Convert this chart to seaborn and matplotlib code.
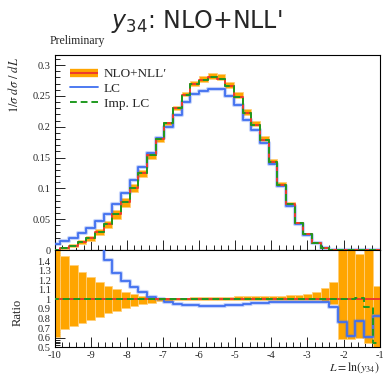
import numpy as np
import matplotlib
matplotlib.use("Agg")
import matplotlib.pyplot as plt
import seaborn as sns
from matplotlib.ticker import MultipleLocator
from matplotlib.lines import Line2D

# ---------------- data ----------------
bin_start = -10.0865
bin_width = 0.2405
n_bins = 38

nlo = [0.0005, 0.003, 0.007, 0.013, 0.019, 0.029, 0.0415, 0.058, 0.078, 0.101,
       0.125, 0.154, 0.180, 0.206, 0.230, 0.252, 0.269, 0.276, 0.280, 0.278,
       0.266, 0.249, 0.222, 0.203, 0.178, 0.143, 0.106, 0.074, 0.044, 0.026,
       0.012, 0.004, 0.0008, 0.0002, 0.0001, 0.0, 0.0, 0.0]
lc = [0.009, 0.014, 0.020, 0.027, 0.036, 0.047, 0.059, 0.075, 0.092, 0.114,
      0.134, 0.157, 0.181, 0.200, 0.219, 0.240, 0.253, 0.258, 0.262, 0.261,
      0.250, 0.235, 0.211, 0.194, 0.174, 0.140, 0.104, 0.072, 0.043, 0.025,
      0.0118, 0.0039, 0.0007, 0.0002, 0.0001, 0.0, 0.0, 0.0]
imp_lc = [0.0005, 0.003, 0.007, 0.013, 0.019, 0.029, 0.0415, 0.058, 0.078, 0.101,
          0.125, 0.154, 0.180, 0.206, 0.230, 0.252, 0.269, 0.276, 0.280, 0.278,
          0.266, 0.249, 0.222, 0.203, 0.178, 0.143, 0.106, 0.074, 0.044, 0.026,
          0.012, 0.004, 0.0008, 0.0002, 0.0001, 0.0, 0.0, 0.0]

band_up = [1.55, 1.45, 1.36, 1.29, 1.23, 1.185, 1.143, 1.108, 1.08, 1.056,
           1.035, 1.022, 1.014, 1.012, 1.015, 1.018, 1.02, 1.022, 1.024, 1.026,
           1.028, 1.03, 1.032, 1.034, 1.036, 1.038, 1.04, 1.045, 1.05, 1.06,
           1.08, 1.12, 1.18, 1.6, 1.6, 1.47, 1.6, 1.14]
band_dn = [0.61, 0.69, 0.72, 0.75, 0.78, 0.817, 0.853, 0.88, 0.905, 0.93,
           0.95, 0.964, 0.978, 0.985, 0.99, 0.99, 0.99, 0.99, 0.99, 0.99,
           0.99, 0.99, 0.99, 0.99, 0.99, 0.99, 0.99, 0.99, 0.99, 0.99,
           0.99, 0.98, 0.95, 0.59, 0.59, 0.60, 0.55, 0.48]
ratio_lc = [18.0, 4.7, 2.9, 2.1, 1.9, 1.62, 1.41, 1.28, 1.19, 1.13,
            1.074, 1.028, 1.0, 0.97, 0.953, 0.943, 0.938, 0.936, 0.935, 0.936,
            0.938, 0.943, 0.95, 0.957, 0.965, 0.972, 0.975, 0.976, 0.977, 0.977,
            0.976, 0.975, 0.92, 0.76, 0.62, 0.77, 0.61, 0.83]
ratio_imp = [1.0] * 35 + [1.015, 0.92, 0.55]

xticks = [-10, -9, -8, -7, -6, -5, -4, -3, -2, -1]
yticks_main = [0, 0.05, 0.1, 0.15, 0.2, 0.25, 0.3]
yticks_ratio = [0.5, 0.6, 0.7, 0.8, 0.9, 1.0, 1.1, 1.2, 1.3, 1.4]

# ---------------- style ----------------
sns.set_theme(style="ticks")
plt.rcParams["font.family"] = ["Liberation Serif", "DejaVu Serif"]
plt.rcParams["mathtext.fontset"] = "stix"
plt.rcParams["axes.linewidth"] = 0.8

ORANGE = "#ffa500"
ORANGE_EDGE = "#ffcf7a"
RED = "#ee3b2b"
BLUE = "#3f6ff0"
GREEN = "#1f9a1f"

edges = bin_start + bin_width * np.arange(n_bins + 1)
lefts = edges[:-1]

W, H = 383, 377
fig = plt.figure(figsize=(W / 100, H / 100), dpi=100)
ax = fig.add_axes([54.7 / W, 1 - 250 / H, 324.9 / W, 195 / H])
axr = fig.add_axes([54.7 / W, 1 - 347.3 / H, 324.9 / W, 97.3 / H])


def step(a, vals, **kw):
    v = np.append(np.asarray(vals, float), vals[-1])
    sns.lineplot(x=edges, y=v, ax=a, drawstyle="steps-post", estimator=None,
                 sort=False, **kw)


# ---- main panel ----
nlo_a = np.asarray(nlo)
lo = nlo_a * np.asarray(band_dn)
hi = nlo_a * np.asarray(band_up)
ax.bar(lefts, hi - lo, bottom=lo, width=bin_width, align="edge",
       color=ORANGE, edgecolor=ORANGE_EDGE, linewidth=0.6, zorder=2)
step(ax, lc, color=BLUE, lw=3.0, alpha=0.3, zorder=3)
step(ax, lc, color=BLUE, lw=1.3, zorder=4)
step(ax, nlo, color=RED, lw=1.4, zorder=5)
step(ax, imp_lc, color=GREEN, lw=1.4, linestyle=(0, (3.5, 2)), zorder=6)

ax.set_xlim(-10, -1)
ax.set_ylim(0, 0.3165)
ax.set_xticks(xticks)
ax.xaxis.set_minor_locator(MultipleLocator(0.2))
ax.set_yticks(yticks_main)
ax.set_yticklabels(["0", "0.05", "0.1", "0.15", "0.2", "0.25", "0.3"])
ax.yaxis.set_minor_locator(MultipleLocator(0.01))
ax.tick_params(axis="x", labelbottom=False)

handles = [
    (Line2D([], [], color=ORANGE, lw=6, solid_capstyle="butt"),
     Line2D([], [], color=RED, lw=1.5, solid_capstyle="butt")),
    Line2D([], [], color=BLUE, lw=1.3),
    Line2D([], [], color=GREEN, lw=1.4, linestyle=(0, (3.5, 2))),
]
ax.legend(handles, ["NLO+NLL\u2032", "LC", "Imp. LC"], loc="upper left",
          bbox_to_anchor=((70 - 54.7) / 324.9, (250 - 68) / 195),
          frameon=False, borderpad=0, borderaxespad=0, fontsize=9.5,
          handlelength=2.1, handletextpad=0.45, labelspacing=0.2)

# ---- ratio panel ----
axr.bar(lefts, np.asarray(band_up) - np.asarray(band_dn), bottom=band_dn,
        width=bin_width, align="edge", color=ORANGE, edgecolor=ORANGE_EDGE,
        linewidth=0.6, zorder=2)
step(axr, ratio_lc, color=BLUE, lw=3.0, alpha=0.3, zorder=3)
step(axr, ratio_lc, color=BLUE, lw=1.3, zorder=4)
step(axr, [1.0] * n_bins, color=RED, lw=1.4, zorder=5)
step(axr, ratio_imp, color=GREEN, lw=1.4, linestyle=(0, (3.5, 2)), zorder=6)

axr.set_xlim(-10, -1)
axr.set_ylim(0.5, 1.515)
axr.set_xticks(xticks)
axr.set_xticklabels([str(t) for t in xticks])
axr.xaxis.set_minor_locator(MultipleLocator(0.2))
axr.set_yticks(yticks_ratio)
axr.set_yticklabels(["0.5", "0.6", "0.7", "0.8", "0.9", "1", "1.1", "1.2", "1.3", "1.4"])
axr.yaxis.set_minor_locator(MultipleLocator(0.02))

for a in (ax, axr):
    a.set_xlabel("")
    a.set_ylabel("")
    a.tick_params(which="both", direction="in", labelsize=7.5, color="#222222",
                  width=0.7, pad=3)
    a.tick_params(which="major", length=7)
    a.tick_params(which="minor", length=3.5)
    for s in a.spines.values():
        s.set_color("black")

# ---- texts ----
fig.text(197 / W, 1 - 28 / H, r"$y_{34}$: NLO+NLL'", ha="center", va="baseline",
         fontsize=17, family="DejaVu Sans", math_fontfamily="dejavusans")
fig.text(50 / W, 1 - 44 / H, "Preliminary", ha="left", va="baseline", fontsize=8.5)
fig.text(14 / W, 1 - 85 / H, r"$1/\sigma\ d\sigma\ /\ dL$", rotation=90,
         ha="center", va="center", fontsize=9)
fig.text(18 / W, 1 - 312 / H, "Ratio", rotation=90, ha="center", va="center",
         fontsize=9)
fig.text(380 / W, 1 - 371 / H, r"$L = \ln(y_{34})$", ha="right", va="baseline",
         fontsize=8.5)

fig.savefig("out.png", dpi=100)
